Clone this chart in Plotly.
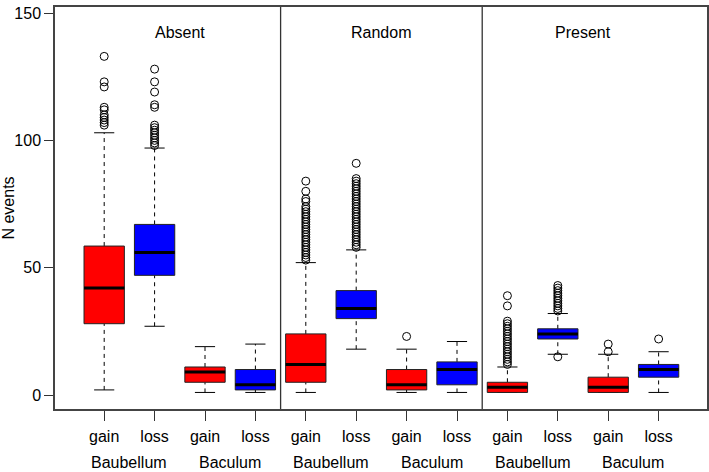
import plotly.graph_objects as go

# ---- data ----
panels = ["Absent", "Random", "Present"]
organs = ["Baubellum", "Baculum"]
events = ["gain", "loss", "gain", "loss", "gain", "loss", "gain", "loss", "gain", "loss", "gain", "loss"]
box_colors = ["#FF0000", "#0000FF"] * 6

lower_whisker = [2, 27, 1, 1, 1, 18, 1, 1, 1, 16, 1, 1]
q1 = [28, 47, 5, 2, 5, 30, 2, 4, 1, 22, 1, 7]
median = [42, 56, 9, 4, 12, 34, 4, 10, 3, 24, 3, 10]
q3 = [58.5, 67, 11, 10, 24, 41, 10, 13, 5, 26, 7, 12]
upper_whisker = [103, 97, 19, 20, 52, 57, 18, 21, 11, 32, 16, 17]

outliers = [
    [106, 107, 108, 109, 110, 112, 113, 121, 123, 133],
    [98, 99, 100, 101, 102, 103, 104, 105, 106, 113, 114, 119, 123, 128],
    [],
    [],
    [53, 54, 55, 56, 57, 58, 59, 60, 61, 62, 63, 64, 65, 66, 67, 68, 69, 70, 71, 72, 73, 74, 76, 77, 80, 84],
    [58, 59, 60, 61, 62, 63, 64, 65, 66, 67, 68, 69, 70, 71, 72, 73, 74, 75, 76, 77, 78, 79, 80, 81, 82, 83, 84, 85, 91],
    [23],
    [],
    [12, 13, 14, 15, 16, 17, 18, 19, 20, 21, 22, 23, 24, 25, 26, 27, 28, 29, 35, 39],
    [15, 33, 34, 35, 36, 37, 38, 39, 40, 41, 42, 43],
    [17, 20],
    [22],
]

y_ticks = [0, 50, 100, 150]
y_tick_labels = ["0", "50", "100", "150"]

FONT = "Liberation Sans, Arial, Helvetica, sans-serif"
half_box = 0.4
half_cap = 0.2

positions = list(range(1, len(events) + 1))

fig = go.Figure()

# whiskers (dashed)
wx, wy = [], []
for p, lw, a, b, uw in zip(positions, lower_whisker, q1, q3, upper_whisker):
    wx += [p, p, None, p, p, None]
    wy += [b, uw, None, lw, a, None]
fig.add_trace(go.Scatter(x=wx, y=wy, mode="lines",
                         line=dict(color="black", width=1, dash="4px,4px"),
                         hoverinfo="skip", showlegend=False))

# caps (staples)
cx, cy = [], []
for p, lw, uw in zip(positions, lower_whisker, upper_whisker):
    cx += [p - half_cap, p + half_cap, None, p - half_cap, p + half_cap, None]
    cy += [uw, uw, None, lw, lw, None]
fig.add_trace(go.Scatter(x=cx, y=cy, mode="lines",
                         line=dict(color="black", width=1),
                         hoverinfo="skip", showlegend=False))

# boxes
for p, a, b, col in zip(positions, q1, q3, box_colors):
    fig.add_trace(go.Scatter(
        x=[p - half_box, p + half_box, p + half_box, p - half_box, p - half_box],
        y=[a, a, b, b, a], mode="lines", fill="toself", fillcolor=col,
        line=dict(color="#222222", width=1), hoverinfo="skip", showlegend=False))

# medians
mx, my = [], []
for p, m in zip(positions, median):
    mx += [p - half_box, p + half_box, None]
    my += [m, m, None]
fig.add_trace(go.Scatter(x=mx, y=my, mode="lines",
                         line=dict(color="black", width=3),
                         hoverinfo="skip", showlegend=False))

# outliers
ox, oy = [], []
for p, outs in zip(positions, outliers):
    ox += [p] * len(outs)
    oy += outs
fig.add_trace(go.Scatter(x=ox, y=oy, mode="markers",
                         marker=dict(symbol="circle-open", size=8, color="black",
                                     line=dict(width=1)),
                         hoverinfo="skip", showlegend=False))

# panel separators
n_per_panel = len(events) // len(panels)
shapes = []
for k in range(1, len(panels)):
    xs = k * n_per_panel + 0.5
    shapes.append(dict(type="line", xref="x", yref="paper", x0=xs, x1=xs, y0=0, y1=1,
                       line=dict(color="#333333", width=1.3)))

annotations = []
for k, name in enumerate(panels):
    cxp = k * n_per_panel + (n_per_panel + 1) / 2
    annotations.append(dict(x=cxp, y=142.2, xref="x", yref="y", text=name,
                            showarrow=False, font=dict(family=FONT, size=16, color="black")))
    for j, org in enumerate(organs):
        gx = k * n_per_panel + 2 * j + 1.5
        annotations.append(dict(x=gx, y=-0.133, xref="x", yref="paper", text=org,
                                showarrow=False, yanchor="middle",
                                font=dict(family=FONT, size=16, color="black")))

fig.update_layout(
    width=709, height=472,
    margin=dict(l=55, r=2, t=7, b=63, autoexpand=False),
    paper_bgcolor="white", plot_bgcolor="white",
    font=dict(family=FONT, size=16, color="black"),
    shapes=shapes, annotations=annotations,
    xaxis=dict(range=[0.024, 12.96], tickmode="array", tickvals=positions, ticktext=events,
               ticks="outside", ticklen=10, tickwidth=1, tickcolor="#333333",
               showline=True, linecolor="#444444", linewidth=1.5, mirror=True,
               showgrid=False, zeroline=False, ticklabelstandoff=2, automargin=False),
    yaxis=dict(range=[-5.5, 152.4], tickmode="array", tickvals=y_ticks, ticktext=y_tick_labels,
               ticks="outside", ticklen=9, tickwidth=1, tickcolor="#333333",
               automargin=False,
               showline=True, linecolor="#444444", linewidth=1.5, mirror=True,
               showgrid=False, zeroline=False,
               title=dict(text="N events", font=dict(family=FONT, size=16), standoff=12)),
)

fig.write_html("out.html", config={"displayModeBar": False},
               post_script="document.body.style.margin='0px';document.body.style.padding='0px';")
